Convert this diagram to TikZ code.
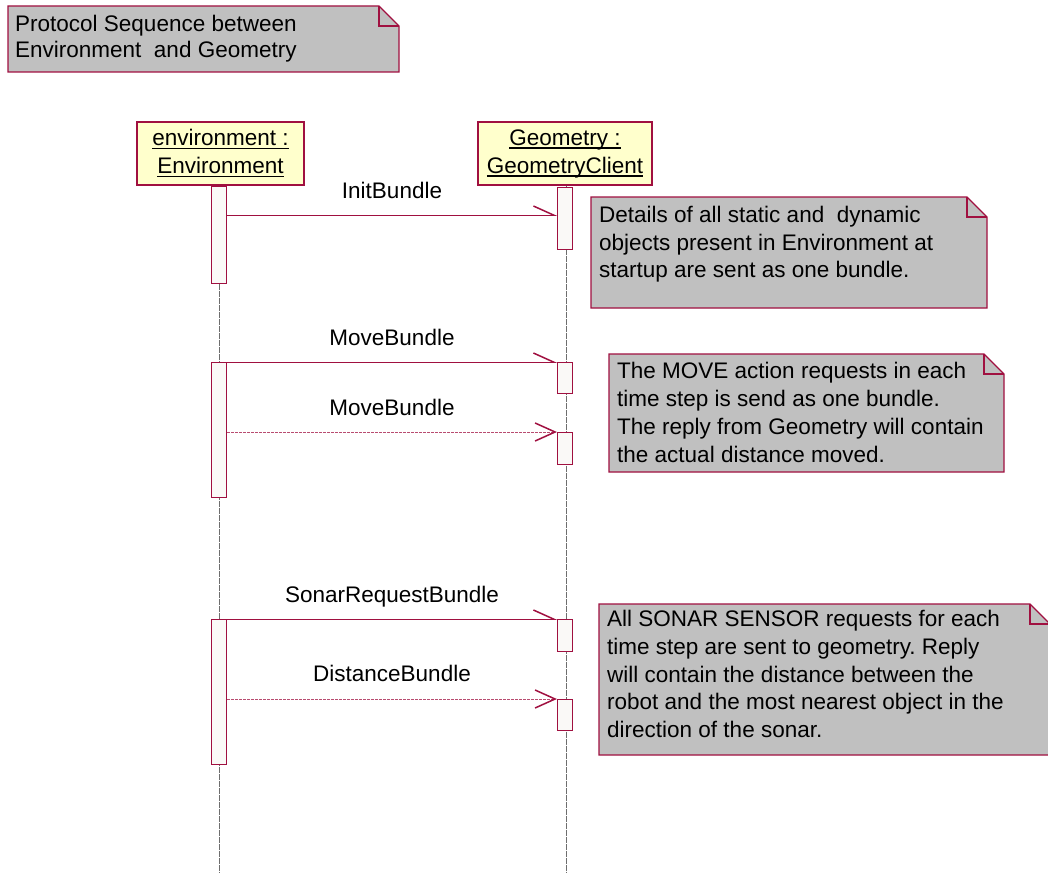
\documentclass[tikz,border=0pt]{standalone}
\usepackage{fontspec}
\setmainfont{Liberation Sans}
\usetikzlibrary{arrows.meta}
\frenchspacing

\definecolor{umlred}{RGB}{160,16,64}
\definecolor{notegray}{RGB}{192,192,192}
\definecolor{actorfill}{RGB}{255,255,204}
\definecolor{barfill}{RGB}{250,249,247}
\definecolor{lifegray}{RGB}{110,110,110}

% underlined object name, rule at a fixed distance under the baseline
\newcommand\objname[1]{\setbox0\hbox{#1}\rlap{\rule[-3.5pt]{\wd0}{1.3pt}}\box0}

% UML note with a folded top-right corner
\newcommand\umlnote[4]{%
  \draw[notebox] (#1,#2) -- (#3-20,#2) -- (#3,#2+20) -- (#3,#4) -- (#1,#4) -- cycle;
  \draw[notebox,fill=none] (#3-20,#2) -- (#3-20,#2+20) -- (#3,#2+20);}

\tikzset{
  notebox/.style={draw=umlred,fill=notegray,line width=1.3pt,line join=miter},
  notetext/.style={anchor=north west,inner sep=0pt,align=left,text=black},
  actor/.style={draw=umlred,fill=actorfill,line width=1.3pt,inner sep=0pt,
    align=center,font=\fontsize{22.5}{28}\selectfont},
  actbar/.style={draw=umlred,fill=barfill,line width=1.2pt,inner sep=0pt,
    minimum width=15pt,anchor=north},
  lifeline/.style={draw=lifegray,line width=1pt,dash pattern=on 6pt off 1pt},
  syncmsg/.style={draw=umlred,line width=1pt,
    -{Straight Barb[left,length=20pt,width=18pt,line width=1.5pt]}},
  replymsg/.style={draw=umlred!75,line width=1pt,dash pattern=on 3pt off 1pt,
    -{Straight Barb[length=20pt,width=18pt,line width=1.5pt,umlred,sep=0pt]}},
  msglabel/.style={anchor=base,inner sep=0pt,font=\fontsize{22.5}{26}\selectfont}
}

\begin{document}
\begin{tikzpicture}[x=1pt,y=-1pt]
\useasboundingbox (0,0) rectangle (1048,872);
\clip (0,0) rectangle (1048,872);

% title note
\umlnote{8}{6}{399}{72}
\node[notetext,font=\fontsize{22.5}{26}\selectfont] (title) at (15,15)
  {Protocol Sequence between\\Environment~ and Geometry};

% objects
\node[actor,minimum width=167pt,minimum height=63pt] (env) at (220.5,153.5)
  {\objname{environment :}\\\objname{Environment}};
\node[actor,minimum width=174pt,minimum height=63pt] (geo) at (565,153.5)
  {\objname{Geometry :}\\\objname{GeometryClient}};

% lifelines
\coordinate (envend) at (219,872);
\coordinate (geoend) at (566,872);
\draw[lifeline] (env.south -| envend) -- (envend);
\draw[lifeline] (geo.south -| geoend) -- (geoend);

% activation bars
\node[actbar,minimum height=97pt]  (ea1) at (219,186) {};
\node[actbar,minimum height=135pt] (ea2) at (219,362) {};
\node[actbar,minimum height=145pt] (ea3) at (219,619) {};
\node[actbar,minimum height=62pt]  (ga1) at (565,187) {};
\node[actbar,minimum height=31pt]  (ga2) at (565,362) {};
\node[actbar,minimum height=32pt]  (ga3) at (565,432) {};
\node[actbar,minimum height=32pt]  (ga4) at (565,619) {};
\node[actbar,minimum height=31pt]  (ga5) at (565,699) {};

% messages
\coordinate (m1) at (392,215);
\draw[syncmsg] (ea1.east |- m1) -- (ga1.west |- m1);
\node[msglabel] (l1) at (392,198) {InitBundle};

\draw[syncmsg] (ea2.north east) -- (ga2.north west);
\node[msglabel] (l2) at (392,345) {MoveBundle};

\draw[replymsg] (ea2.east |- ga3.north) -- (ga3.north west);
\node[msglabel] (l3) at (392,415) {MoveBundle};

\draw[syncmsg] (ea3.north east) -- (ga4.north west);
\node[msglabel] (l4) at (392,602) {SonarRequestBundle};

\draw[replymsg] (ea3.east |- ga5.north) -- (ga5.north west);
\node[msglabel] (l5) at (392,681) {DistanceBundle};

% comment notes
\umlnote{591}{197}{987}{308}
\node[notetext,font=\fontsize{22.5}{27.5}\selectfont] (n1) at (599,206)
  {Details of all static and~ dynamic\\objects present in Environment at\\startup are sent as one bundle.};

\umlnote{609}{354}{1004}{472}
\node[notetext,font=\fontsize{22.5}{28}\selectfont] (n2) at (617,362)
  {The MOVE action requests in each\\time step is send as one bundle.\\The reply from Geometry will contain\\the actual distance moved.};

\umlnote{599}{604}{1050}{755}
\node[notetext,font=\fontsize{22.5}{27.8}\selectfont] (n3) at (607,610)
  {All SONAR SENSOR requests for each\\time step are sent to geometry. Reply\\will contain the distance between the\\robot and the most nearest object in the\\direction of the sonar.};
\end{tikzpicture}
\end{document}
